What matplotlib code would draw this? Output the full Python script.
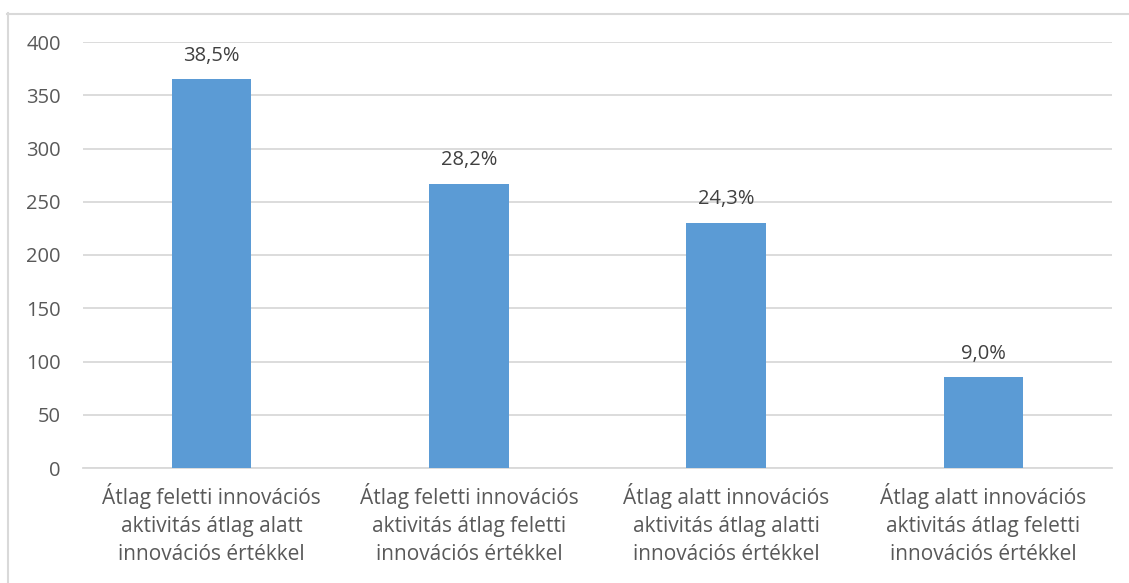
import matplotlib
matplotlib.use("Agg")
import matplotlib.pyplot as plt
from matplotlib.lines import Line2D

categories = [
    "Átlag feletti innovációs\naktivitás átlag alatt\ninnovációs értékkel",
    "Átlag feletti innovációs\naktivitás átlag feletti\ninnovációs értékkel",
    "Átlag alatt innovációs\naktivitás átlag alatti\ninnovációs értékkel",
    "Átlag alatt innovációs\naktivitás átlag feletti\ninnovációs értékkel",
]
counts = [365, 267, 230, 85]
y_ticks = [0, 50, 100, 150, 200, 250, 300, 350, 400]

plt.rcParams["font.family"] = ["Open Sans", "DejaVu Sans"]
text_color = "#595959"
bar_color = "#5B9BD5"
grid_color = "#D9D9D9"
W, H = 1129, 583

fig = plt.figure(figsize=(W / 100, H / 100), dpi=100)
fig.patch.set_facecolor("white")
# chart-area frame (top and left edges)
fig.lines.append(Line2D([7 / W, 1.0], [1 - 13.5 / H, 1 - 13.5 / H],
                        transform=fig.transFigure, color=grid_color, linewidth=1.5))
fig.lines.append(Line2D([7.5 / W, 7.5 / W], [0, 1 - 13 / H],
                        transform=fig.transFigure, color=grid_color, linewidth=1.5))

ax = fig.add_axes([83 / W, 1 - 468 / H, (1112 - 83) / W, (468 - 42) / H])
x = range(len(categories))
ax.bar(x, counts, width=0.31, color=bar_color, zorder=3)

total = sum(counts)
for xi, v in zip(x, counts):
    pct = f"{v / total * 100:.1f}%".replace(".", ",")
    ax.annotate(pct, (xi, v), xytext=(0, 17), textcoords="offset points",
                ha="center", va="center", fontsize=14.5, color="#404040")

ax.set_xlim(-0.5, len(categories) - 0.5)
ax.set_ylim(0, 400)
ax.set_yticks(y_ticks)
ax.set_yticklabels([str(t) for t in y_ticks])
ax.set_xticks(list(x))
ax.set_xticklabels(categories, linespacing=1.42)
ax.tick_params(axis="both", length=0, labelsize=14.5, colors=text_color)
ax.tick_params(axis="x", labelsize=15)
ax.tick_params(axis="y", pad=16)
ax.tick_params(axis="x", pad=11)
ax.grid(axis="y", color=grid_color, linewidth=1.3, zorder=0)
for s in ["top", "right", "left"]:
    ax.spines[s].set_visible(False)
ax.spines["bottom"].set_color(grid_color)
ax.spines["bottom"].set_linewidth(1.3)

fig.savefig("out.png", dpi=100)
